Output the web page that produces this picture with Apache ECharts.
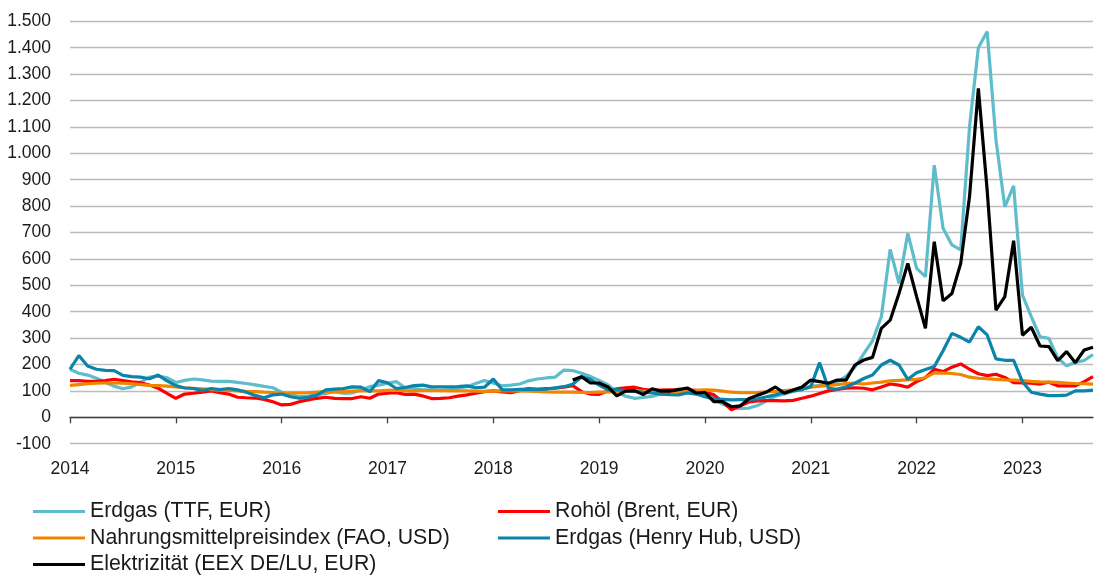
<!DOCTYPE html>
<html>
<head>
<meta charset="utf-8">
<script src="https://cdn.jsdelivr.net/npm/echarts@6/dist/echarts.min.js"></script>
<style>
  html, body { margin: 0; padding: 0; background: #fff; }
  #chart { width: 1094px; height: 575px; }
</style>
</head>
<body>
<div id="chart"></div>
<script>
// monthly values, Jan 2014 .. Sep 2023 (index-like)
const years = [2014, 2015, 2016, 2017, 2018, 2019, 2020, 2021, 2022, 2023]
const lastMonth2023 = 9

const ttf = [
  182, 167, 160, 148, 132, 118, 108, 115, 132, 152, 156, 150,
  132, 140, 145, 142, 137, 136, 136, 132, 128, 123, 117, 112,
  95, 86, 78, 80, 85, 90, 96, 91, 92, 104, 116, 122,
  129, 135, 112, 110, 104, 104, 101, 104, 110, 116, 128, 139,
  130, 119, 122, 126, 138, 145, 149, 152, 179, 177, 167, 155,
  140, 123, 95, 80, 72, 75, 79, 88, 98, 107, 100, 95,
  85, 72, 50, 36, 34, 35, 45, 62, 80, 88, 98, 110,
  118, 120, 120, 135, 155, 190, 240, 290, 381, 636, 507, 697,
  564, 533, 955, 716, 653, 634, 1101, 1400, 1461, 1050, 797, 877,
  463, 381, 305, 299, 225, 195, 208, 215, 238
]

const brent = [
  139, 139, 136, 136, 139, 144, 139, 134, 131, 122, 110, 91,
  72, 88, 91, 95, 100, 93, 88, 76, 74, 73, 68, 59,
  47, 49, 59, 66, 72, 76, 72, 71, 71, 78, 72, 88,
  91, 93, 87, 88, 81, 71, 72, 74, 80, 85, 91, 97,
  100, 96, 93, 101, 109, 106, 109, 110, 114, 120, 97, 88,
  87, 100, 108, 112, 114, 106, 102, 103, 104, 103, 104, 102,
  96, 85, 59, 28, 44, 58, 62, 63, 63, 62, 64, 72,
  80, 90, 100, 106, 110, 112, 110, 104, 115, 126, 122, 114,
  135, 150, 182, 173, 190, 202, 182, 165, 158, 163, 151, 131,
  130, 129, 126, 133, 119, 119, 119, 135, 154
]

const fao = [
  121, 124, 127, 129, 130, 130, 129, 127, 124, 121, 120, 118,
  115, 112, 110, 108, 105, 103, 102, 100, 98, 97, 95, 94,
  91, 92, 92, 93, 95, 97, 97, 98, 99, 100, 100, 100,
  102, 103, 101, 100, 101, 101, 101, 100, 100, 100, 99, 98,
  99, 100, 100, 100, 99, 98, 96, 95, 95, 95, 94, 94,
  95, 96, 97, 99, 100, 99, 97, 96, 96, 97, 99, 102,
  104, 103, 99, 95, 93, 93, 94, 96, 98, 101, 104, 107,
  114, 118, 121, 124, 128, 130, 126, 130, 133, 138, 140, 142,
  144, 150, 168, 167, 166, 162, 152, 148, 146, 144, 142, 141,
  139, 136, 134, 133, 132, 130, 128, 127, 126
]

const henryHub = [
  182, 234, 194, 182, 178, 177, 159, 154, 152, 146, 160, 138,
  120, 111, 109, 101, 109, 105, 109, 104, 95, 83, 74, 85,
  88, 78, 72, 76, 84, 104, 107, 109, 115, 114, 97, 139,
  131, 109, 113, 120, 122, 115, 115, 115, 116, 119, 112, 114,
  145, 104, 104, 106, 107, 106, 107, 112, 116, 125, 153, 144,
  122, 104, 105, 100, 98, 95, 92, 88, 86, 85, 92, 88,
  78, 70, 68, 66, 67, 68, 70, 78, 85, 95, 100, 105,
  116, 207, 110, 106, 116, 129, 147, 160, 198, 216, 198, 144,
  169, 181, 192, 252, 318, 303, 285, 343, 312, 221, 216, 216,
  135, 95, 88, 82, 82, 84, 100, 100, 103
]

// electricity series starts Oct 2018
const elecStart = 57
const elecValues = [
  141, 154, 130,
  130, 115, 81, 99, 101, 86, 108, 99, 99, 105, 111, 92,
  94, 59, 59, 40, 43, 71, 84, 96, 115, 91, 103, 115,
  141, 135, 129, 141, 141, 198, 217, 227, 337, 368, 469, 583,
  457, 337, 665, 441, 469, 583, 836, 1246, 860, 406, 457, 669,
  311, 341, 270, 268, 215, 249, 207, 255, 265
]

const yTicks = { min: -100, max: 1500, step: 100 }

const months = []
years.forEach((y) => {
  const n = y === 2023 ? lastMonth2023 : 12
  for (let m = 1; m <= n; m++) months.push(y + '-' + String(m).padStart(2, '0'))
})
const elec = months.map((_, i) => (i < elecStart ? null : elecValues[i - elecStart]))

const C = {
  ttf: '#5FBCCB',
  brent: '#FF0000',
  fao: '#F28500',
  hh: '#0A84A8',
  elec: '#000000',
  grid: '#bcbcbc',
  axis: '#404040',
  text: '#1a1a1a'
}
const FONT = '"Liberation Sans", Arial, sans-serif'

const dePoint = (v) => String(v).replace(/\B(?=(\d{3})+(?!\d))/g, '.')
const yearTick = (i) => i % 12 === 0

function line(name, data, color) {
  return {
    name,
    type: 'line',
    data,
    symbol: 'none',
    connectNulls: false,
    lineStyle: { color, width: 3.2 },
    itemStyle: { color },
    z: 2
  }
}

const legendBase = {
  orient: 'vertical',
  top: 501,
  padding: 0,
  itemGap: 5.5,
  itemWidth: 52,
  itemHeight: 3,
  icon: 'rect',
  textStyle: { color: C.text, fontSize: 21.3, fontFamily: FONT, lineHeight: 21 }
}

const chart = echarts.init(document.getElementById('chart'))
chart.setOption({
  animation: false,
  backgroundColor: '#ffffff',
  grid: { left: 70, right: 1, top: 21.3, bottom: 131.3 },
  legend: [
    { ...legendBase, left: 33, data: ['Erdgas (TTF, EUR)', 'Nahrungsmittelpreisindex (FAO, USD)', 'Elektrizität (EEX DE/LU, EUR)'] },
    { ...legendBase, left: 498, data: ['Rohöl (Brent, EUR)', 'Erdgas (Henry Hub, USD)'] }
  ],
  xAxis: {
    type: 'category',
    data: months,
    boundaryGap: false,
    axisLine: { onZero: true, lineStyle: { color: C.axis, width: 1.3 } },
    axisTick: { show: true, interval: yearTick, length: 6, inside: false, lineStyle: { color: C.axis, width: 1.3 } },
    axisLabel: {
      interval: yearTick,
      margin: 16,
      color: C.text,
      fontSize: 17.5,
      fontFamily: FONT,
      formatter: (v) => v.slice(0, 4)
    },
    splitLine: { show: false }
  },
  yAxis: {
    type: 'value',
    min: yTicks.min,
    max: yTicks.max,
    interval: yTicks.step,
    axisLine: { show: false },
    axisTick: { show: false },
    axisLabel: { color: C.text, fontSize: 17.5, fontFamily: FONT, margin: 19, formatter: dePoint },
    splitLine: { lineStyle: { color: C.grid, width: 1.3 } }
  },
  series: [
    line('Erdgas (TTF, EUR)', ttf, C.ttf),
    line('Rohöl (Brent, EUR)', brent, C.brent),
    line('Nahrungsmittelpreisindex (FAO, USD)', fao, C.fao),
    line('Erdgas (Henry Hub, USD)', henryHub, C.hh),
    line('Elektrizität (EEX DE/LU, EUR)', elec, C.elec)
  ]
})
</script>
</body>
</html>
